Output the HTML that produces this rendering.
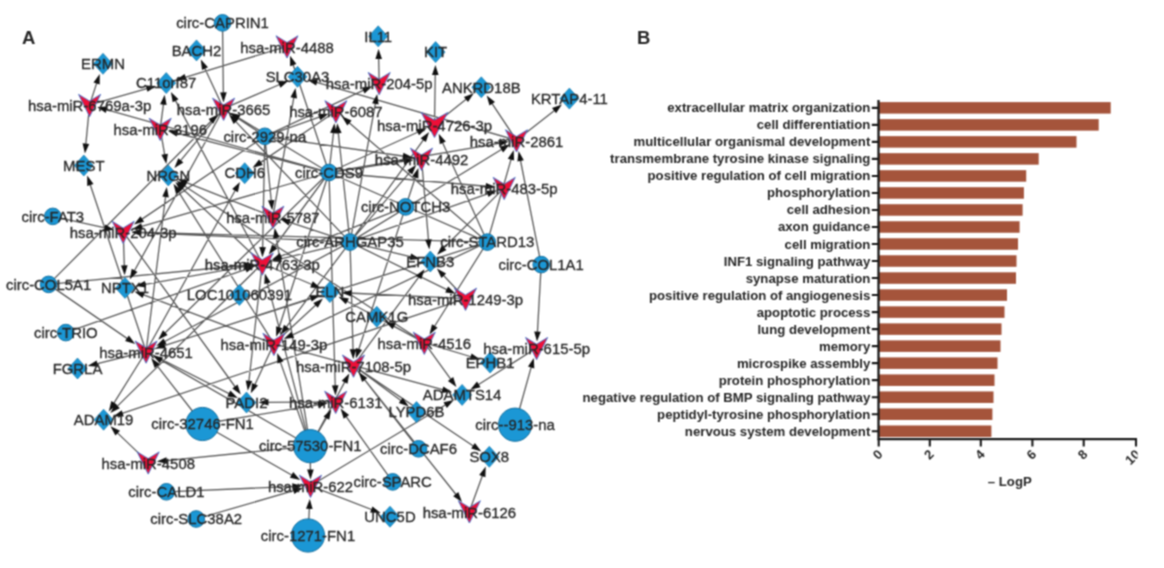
<!DOCTYPE html>
<html><head><meta charset="utf-8"><title>Figure</title>
<style>
html,body{margin:0;padding:0;background:#fff;}
body{width:1164px;height:568px;overflow:hidden;font-family:"Liberation Sans",sans-serif;}
svg{display:block;font-family:"Liberation Sans",sans-serif;}
</style></head><body>
<svg width="1164" height="568" viewBox="0 0 1164 568">
<defs><filter id="soft" x="0" y="0" width="100%" height="100%" filterUnits="userSpaceOnUse" color-interpolation-filters="sRGB"><feConvolveMatrix order="3" kernelMatrix="0.06 0.12 0.06 0.12 0.28 0.12 0.06 0.12 0.06" divisor="1" edgeMode="duplicate" preserveAlpha="false"/></filter></defs>
<g filter="url(#soft)">
<rect width="1164" height="568" fill="#fff"/>
<text x="22" y="43.5" font-size="18.5" font-weight="bold" fill="#262626">A</text>
<text x="637" y="43.5" font-size="18.5" font-weight="bold" fill="#262626">B</text>
<g id="net">
<path d="M222.5 22.9L223.4 95.4M329.0 172.5L292.3 62.3M329.0 172.5L103.8 108.9M329.0 172.5L174.5 132.5M329.0 172.5L236.2 116.3M329.0 172.5L333.8 130.2M329.0 172.5L420.3 131.0M329.0 172.5L488.7 186.5M329.0 172.5L272.9 249.0M329.0 172.5L139.1 227.2M329.0 172.5L278.3 330.0M329.0 172.5L406.7 160.9M264.8 136.3L235.8 116.9M264.8 136.3L322.0 116.1M264.8 136.3L365.9 89.2M264.8 136.3L271.5 203.2M264.8 136.3L262.6 250.2M350.0 242.1L375.9 100.9M350.0 242.1L233.9 119.6M350.0 242.1L411.6 170.2M350.0 242.1L425.0 137.7M350.0 242.1L503.9 148.0M350.0 242.1L490.3 192.8M350.0 242.1L138.4 232.5M350.0 242.1L278.1 259.6M350.0 242.1L353.1 352.2M350.0 242.1L162.4 342.8M350.0 242.1L449.3 290.8M350.0 242.1L284.8 329.2M350.0 242.1L338.0 130.3M405.6 206.9L416.2 174.7M405.6 206.9L358.0 351.8M487.3 242.1L441.5 140.2M487.3 242.1L433.2 328.5M541.2 264.6L537.3 334.6M52.8 216.4L107.4 228.3M48.6 284.4L213.0 119.3M48.6 284.4L247.3 265.0M48.6 284.4L129.5 340.1M65.8 332.6L248.4 268.4M202.5 424.0L294.2 476.5M202.5 424.0L321.0 404.3M310.2 446.2L310.4 472.5M310.2 446.2L327.9 415.5M310.2 446.2L346.0 379.6M310.2 446.2L279.5 359.6M310.2 446.2L163.8 460.8M310.2 446.2L275.9 234.9M308.0 535.5L309.5 505.9M166.4 491.8L295.3 486.4M196.2 519.0L296.3 489.9M392.7 481.9L344.6 414.3M418.5 448.8L362.9 377.6M515.1 424.7L531.9 364.6M89.6 104.9L97.5 80.6M89.6 104.9L149.5 87.9M89.6 104.9L85.6 146.5M287.0 46.3L182.7 78.1M223.6 108.7L203.7 66.0M223.6 108.7L281.9 83.5M223.6 108.7L178.9 162.6M223.6 108.7L133.2 273.0M160.2 128.8L163.8 101.7M160.2 128.8L165.1 157.2M262.3 263.5L174.2 98.1M262.3 263.5L180.4 186.7M262.3 263.5L142.5 284.8M262.3 263.5L314.3 285.5M262.3 263.5L248.6 383.7M379.2 83.0L378.6 56.1M434.5 124.5L435.3 71.9M434.5 124.5L468.3 97.6M516.5 140.3L490.6 101.3M516.5 140.3L556.4 108.9M516.5 140.3L314.1 81.6M273.9 343.8L253.8 387.0M273.9 343.8L317.7 303.3M273.9 343.8L141.0 293.9M123.2 231.8L124.4 268.3M146.1 351.5L89.4 182.2M146.1 351.5L165.9 194.0M146.1 351.5L94.5 364.3M146.1 351.5L112.5 405.4M146.1 351.5L231.5 394.9M146.1 351.5L313.5 297.4M148.2 462.4L115.6 431.1M310.5 485.8L374.1 510.5M469.4 511.3L483.3 473.2M335.7 401.8L265.4 402.4M353.5 365.6L445.3 390.4M353.5 365.6L475.5 447.5M424.3 342.7L473.5 357.5M424.3 342.7L452.3 381.4M424.3 342.7L391.5 324.8M465.5 298.7L441.7 273.5M465.5 298.7L348.5 293.0M536.6 348.0L476.2 386.0M421.5 158.7L428.7 242.4M335.9 111.2L258.4 163.9M264.8 136.3L139.8 220.6M272.9 216.7L184.1 181.7M424.3 342.7L182.2 184.5M146.1 351.5L236.5 188.0M264.8 136.3L405.9 156.5M329.0 172.5L501.8 142.8M272.9 216.7L294.3 94.9M487.3 242.1L347.1 120.9M487.3 242.1L511.8 156.8M541.2 264.6L520.0 158.0M504.2 187.9L442.0 249.8M487.3 242.1L138.4 232.2M350.0 242.1L413.3 257.4M487.3 242.1L290.1 336.1M353.5 365.6L420.4 274.9M424.3 342.7L344.7 300.0M273.9 343.8L177.2 189.7M310.2 446.2L266.7 280.3M310.2 446.2L158.8 358.9M202.5 424.0L155.5 363.6M262.3 263.5L115.4 408.1M465.5 298.7L119.9 414.2M487.3 242.1L162.0 346.4M329.0 172.5L163.2 334.8M123.2 231.8L236.7 389.0M329.0 172.5L335.3 388.4M273.9 343.8L445.3 390.3M353.5 365.6L403.2 402.3M310.5 485.8L447.8 403.5M353.5 365.6L457.6 496.5M405.6 206.9L278.3 257.2M350.0 242.1L286.9 221.3M329 172.5L487.3 242.1" stroke="#5a5a5a" stroke-width="1.3" fill="none"/>
<path d="M223.5 102.4L220.1 92.4L226.7 92.3ZM290.1 55.7L296.4 64.1L290.1 66.2ZM97.1 107.0L107.6 106.6L105.8 112.9ZM167.8 130.8L178.3 130.1L176.6 136.5ZM230.2 112.7L240.5 115.0L237.0 120.7ZM334.5 123.2L336.7 133.5L330.1 132.8ZM426.7 128.1L419.0 135.2L416.2 129.2ZM495.6 187.1L485.4 189.6L486.0 183.0ZM268.8 254.6L272.1 244.6L277.4 248.5ZM132.4 229.2L141.1 223.2L142.9 229.6ZM276.2 336.7L276.1 326.2L282.4 328.2ZM413.6 159.9L404.2 164.6L403.3 158.1ZM230.0 113.0L240.2 115.8L236.5 121.3ZM328.6 113.8L320.3 120.2L318.1 114.0ZM372.2 86.3L364.6 93.5L361.8 87.5ZM272.2 210.2L268.0 200.5L274.5 199.9ZM262.4 257.2L259.3 247.1L265.9 247.2ZM377.2 94.0L378.6 104.4L372.1 103.2ZM229.1 114.5L238.4 119.5L233.6 124.1ZM416.2 164.9L412.2 174.6L407.2 170.3ZM429.1 132.0L425.9 142.1L420.6 138.2ZM509.9 144.3L503.1 152.4L499.7 146.7ZM496.9 190.5L488.6 196.9L486.4 190.7ZM131.4 232.2L141.5 229.3L141.2 235.9ZM271.3 261.3L280.3 255.7L281.8 262.1ZM353.3 359.2L349.7 349.3L356.3 349.1ZM156.2 346.1L163.5 338.4L166.6 344.3ZM455.6 293.8L445.2 292.4L448.1 286.5ZM280.6 334.8L284.0 324.8L289.3 328.8ZM337.2 123.3L341.6 132.9L335.0 133.6ZM418.4 168.1L418.4 178.6L412.1 176.6ZM355.8 358.5L355.8 347.9L362.1 350.0ZM438.7 133.8L445.8 141.6L439.8 144.3ZM429.5 334.4L432.0 324.2L437.6 327.7ZM537.0 341.6L534.2 331.4L540.8 331.8ZM114.3 229.8L103.8 230.9L105.2 224.5ZM218.0 114.4L213.2 123.8L208.6 119.1ZM254.3 264.3L244.7 268.5L244.0 262.0ZM135.2 344.0L125.1 341.1L128.9 335.6ZM255.0 266.1L246.7 272.5L244.5 266.3ZM300.2 479.9L289.9 477.8L293.2 472.1ZM327.9 403.1L318.6 408.0L317.5 401.5ZM310.5 479.5L307.1 469.5L313.7 469.5ZM331.3 409.4L329.2 419.7L323.5 416.4ZM349.3 373.4L347.5 383.8L341.7 380.7ZM277.2 353.0L283.6 361.3L277.4 363.5ZM156.8 461.5L166.4 457.3L167.1 463.8ZM274.7 228.0L279.6 237.3L273.1 238.4ZM309.8 498.9L312.6 509.1L306.0 508.7ZM302.3 486.1L292.5 489.9L292.2 483.3ZM303.0 488.0L294.3 493.9L292.5 487.6ZM340.6 408.6L349.1 414.9L343.7 418.7ZM358.6 372.1L367.3 378.0L362.1 382.0ZM533.8 357.9L534.3 368.4L528.0 366.6ZM99.7 73.9L99.7 84.4L93.5 82.4ZM156.2 85.9L147.5 91.8L145.7 85.5ZM84.9 153.5L82.6 143.2L89.2 143.9ZM176.0 80.1L184.6 74.0L186.6 80.3ZM200.8 59.6L208.0 67.3L202.0 70.1ZM288.4 80.7L280.5 87.7L277.9 81.7ZM174.4 168.0L178.3 158.2L183.4 162.4ZM129.8 279.2L131.7 268.8L137.5 272.0ZM164.7 94.7L166.6 105.1L160.1 104.2ZM166.3 164.1L161.4 154.8L167.9 153.7ZM170.9 91.9L178.5 99.2L172.7 102.3ZM175.3 181.9L184.8 186.4L180.3 191.2ZM135.6 286.0L144.9 281.0L146.1 287.5ZM320.7 288.2L310.2 287.4L312.8 281.3ZM247.8 390.7L245.7 380.4L252.3 381.1ZM378.5 49.1L382.0 59.0L375.4 59.1ZM435.4 64.9L438.6 75.0L432.0 74.9ZM473.8 93.2L468.0 102.1L463.9 96.9ZM486.7 95.4L495.0 101.9L489.5 105.6ZM561.9 104.5L556.1 113.3L552.0 108.1ZM307.4 79.7L318.0 79.3L316.1 85.6ZM250.8 393.3L252.0 382.9L258.0 385.6ZM322.9 298.6L317.8 307.8L313.3 302.9ZM134.4 291.4L145.0 291.9L142.6 298.0ZM124.6 275.3L121.0 265.4L127.6 265.2ZM87.2 175.5L93.5 184.0L87.2 186.1ZM166.8 187.1L168.8 197.4L162.3 196.6ZM87.7 366.0L96.6 360.4L98.2 366.8ZM108.8 411.4L111.3 401.1L116.9 404.6ZM237.8 398.1L227.4 396.5L230.3 390.6ZM320.2 295.2L311.7 301.5L309.6 295.2ZM110.5 426.3L120.0 430.8L115.4 435.6ZM380.6 513.1L370.1 512.5L372.5 506.4ZM485.7 466.6L485.4 477.2L479.2 474.9ZM258.4 402.4L268.4 399.0L268.5 405.6ZM452.1 392.2L441.5 392.8L443.3 386.4ZM481.3 451.4L471.2 448.6L474.9 443.1ZM480.2 359.5L469.7 359.8L471.6 353.5ZM456.4 387.0L447.9 380.9L453.2 377.0ZM385.4 321.5L395.7 323.4L392.6 329.2ZM436.9 268.4L446.1 273.4L441.4 278.0ZM341.5 292.7L351.6 289.9L351.3 296.4ZM470.3 389.8L477.0 381.6L480.5 387.2ZM429.3 249.4L425.1 239.7L431.7 239.2ZM252.6 167.8L259.1 159.4L262.8 164.9ZM134.0 224.5L140.4 216.2L144.1 221.7ZM177.6 179.1L188.1 179.7L185.7 185.8ZM176.4 180.7L186.5 183.4L182.9 188.9ZM239.9 181.9L237.9 192.3L232.2 189.1ZM412.8 157.5L402.4 159.3L403.4 152.8ZM508.7 141.6L499.4 146.6L498.3 140.1ZM295.5 88.1L297.0 98.5L290.5 97.3ZM341.8 116.3L351.6 120.4L347.3 125.4ZM513.7 150.1L514.1 160.6L507.8 158.8ZM518.6 151.1L523.8 160.3L517.4 161.6ZM437.1 254.8L441.8 245.4L446.5 250.0ZM131.4 232.0L141.5 229.0L141.3 235.6ZM420.1 259.0L409.6 259.9L411.1 253.5ZM283.7 339.1L291.4 331.8L294.2 337.8ZM424.5 269.3L421.3 279.3L416.0 275.4ZM338.5 296.7L348.9 298.5L345.8 304.3ZM173.5 183.7L181.6 190.4L176.0 193.9ZM264.9 273.6L270.7 282.4L264.3 284.1ZM152.8 355.4L163.1 357.5L159.8 363.2ZM151.2 358.0L159.9 363.9L154.7 367.9ZM110.4 413.0L115.2 403.6L119.8 408.3ZM113.3 416.5L121.7 410.2L123.8 416.4ZM155.4 348.5L163.9 342.3L165.9 348.6ZM158.2 339.7L163.0 330.3L167.6 335.1ZM240.8 394.6L232.3 388.5L237.6 384.6ZM335.5 395.4L331.9 385.5L338.5 385.3ZM452.1 392.2L441.5 392.7L443.3 386.4ZM408.8 406.4L398.8 403.1L402.7 397.8ZM453.8 399.9L446.9 407.9L443.5 402.2ZM462.0 502.0L453.2 496.2L458.3 492.1ZM271.8 259.7L279.9 253.0L282.3 259.1ZM280.3 219.1L290.8 219.1L288.7 225.4Z" fill="#111"/>
<circle cx="222.5" cy="22.9" r="8.3" fill="#1b97d5" stroke="#136f9f" stroke-width="1"/>
<polygon points="196.5,39.9 206.0,50.4 196.5,60.9 187.0,50.4" fill="#1b97d5" stroke="#136f9f" stroke-width="0.6"/>
<polygon points="276.0,35.8 287.0,42.5 298.0,35.8 287.0,58.0" fill="#ee0f37" stroke="#3f6fc8" stroke-width="0.9" stroke-linejoin="miter"/>
<polygon points="103.0,53.3 112.5,63.8 103.0,74.3 93.5,63.8" fill="#1b97d5" stroke="#136f9f" stroke-width="0.6"/>
<polygon points="166.2,72.6 175.7,83.1 166.2,93.6 156.7,83.1" fill="#1b97d5" stroke="#136f9f" stroke-width="0.6"/>
<polygon points="297.5,66.3 307.0,76.8 297.5,87.3 288.0,76.8" fill="#1b97d5" stroke="#136f9f" stroke-width="0.6"/>
<polygon points="78.6,94.4 89.6,101.1 100.6,94.4 89.6,116.6" fill="#ee0f37" stroke="#3f6fc8" stroke-width="0.9" stroke-linejoin="miter"/>
<polygon points="212.6,98.2 223.6,104.9 234.6,98.2 223.6,120.4" fill="#ee0f37" stroke="#3f6fc8" stroke-width="0.9" stroke-linejoin="miter"/>
<polygon points="149.2,118.3 160.2,125.0 171.2,118.3 160.2,140.5" fill="#ee0f37" stroke="#3f6fc8" stroke-width="0.9" stroke-linejoin="miter"/>
<circle cx="264.8" cy="136.3" r="8.3" fill="#1b97d5" stroke="#136f9f" stroke-width="1"/>
<polygon points="83.8,155.0 93.3,165.5 83.8,176.0 74.3,165.5" fill="#1b97d5" stroke="#136f9f" stroke-width="0.6"/>
<polygon points="168.3,164.9 177.8,175.4 168.3,185.9 158.8,175.4" fill="#1b97d5" stroke="#136f9f" stroke-width="0.6"/>
<polygon points="244.7,162.7 254.2,173.2 244.7,183.7 235.2,173.2" fill="#1b97d5" stroke="#136f9f" stroke-width="0.6"/>
<circle cx="329" cy="172.5" r="8.3" fill="#1b97d5" stroke="#136f9f" stroke-width="1"/>
<polygon points="378.2,25.8 387.7,36.3 378.2,46.8 368.7,36.3" fill="#1b97d5" stroke="#136f9f" stroke-width="0.6"/>
<polygon points="435.6,41.6 445.1,52.1 435.6,62.6 426.1,52.1" fill="#1b97d5" stroke="#136f9f" stroke-width="0.6"/>
<polygon points="368.2,72.5 379.2,79.2 390.2,72.5 379.2,94.7" fill="#ee0f37" stroke="#3f6fc8" stroke-width="0.9" stroke-linejoin="miter"/>
<polygon points="481.3,76.8 490.8,87.3 481.3,97.8 471.8,87.3" fill="#1b97d5" stroke="#136f9f" stroke-width="0.6"/>
<polygon points="569.4,88.1 578.9,98.6 569.4,109.1 559.9,98.6" fill="#1b97d5" stroke="#136f9f" stroke-width="0.6"/>
<polygon points="324.9,100.7 335.9,107.4 346.9,100.7 335.9,122.9" fill="#ee0f37" stroke="#3f6fc8" stroke-width="0.9" stroke-linejoin="miter"/>
<polygon points="421.3,112.5 434.5,120.0 447.7,112.5 434.5,137.5" fill="#ee0f37" stroke="#3f6fc8" stroke-width="0.9" stroke-linejoin="miter"/>
<polygon points="505.5,129.8 516.5,136.5 527.5,129.8 516.5,152.0" fill="#ee0f37" stroke="#3f6fc8" stroke-width="0.9" stroke-linejoin="miter"/>
<polygon points="410.5,148.2 421.5,154.9 432.5,148.2 421.5,170.4" fill="#ee0f37" stroke="#3f6fc8" stroke-width="0.9" stroke-linejoin="miter"/>
<polygon points="493.2,177.4 504.2,184.1 515.2,177.4 504.2,199.6" fill="#ee0f37" stroke="#3f6fc8" stroke-width="0.9" stroke-linejoin="miter"/>
<circle cx="52.8" cy="216.4" r="8.3" fill="#1b97d5" stroke="#136f9f" stroke-width="1"/>
<polygon points="112.2,221.3 123.2,228.0 134.2,221.3 123.2,243.5" fill="#ee0f37" stroke="#3f6fc8" stroke-width="0.9" stroke-linejoin="miter"/>
<polygon points="261.9,206.2 272.9,212.9 283.9,206.2 272.9,228.4" fill="#ee0f37" stroke="#3f6fc8" stroke-width="0.9" stroke-linejoin="miter"/>
<polygon points="251.3,253.0 262.3,259.7 273.3,253.0 262.3,275.2" fill="#ee0f37" stroke="#3f6fc8" stroke-width="0.9" stroke-linejoin="miter"/>
<circle cx="48.6" cy="284.4" r="8.3" fill="#1b97d5" stroke="#136f9f" stroke-width="1"/>
<polygon points="125.0,277.4 134.5,287.9 125.0,298.4 115.5,287.9" fill="#1b97d5" stroke="#136f9f" stroke-width="0.6"/>
<polygon points="239.4,284.4 248.9,294.9 239.4,305.4 229.9,294.9" fill="#1b97d5" stroke="#136f9f" stroke-width="0.6"/>
<circle cx="65.8" cy="332.6" r="8.3" fill="#1b97d5" stroke="#136f9f" stroke-width="1"/>
<polygon points="135.1,341.0 146.1,347.7 157.1,341.0 146.1,363.2" fill="#ee0f37" stroke="#3f6fc8" stroke-width="0.9" stroke-linejoin="miter"/>
<polygon points="77.5,358.0 87.0,368.5 77.5,379.0 68.0,368.5" fill="#1b97d5" stroke="#136f9f" stroke-width="0.6"/>
<polygon points="262.9,333.3 273.9,340.0 284.9,333.3 273.9,355.5" fill="#ee0f37" stroke="#3f6fc8" stroke-width="0.9" stroke-linejoin="miter"/>
<circle cx="405.6" cy="206.9" r="8.3" fill="#1b97d5" stroke="#136f9f" stroke-width="1"/>
<circle cx="350" cy="242.1" r="8.3" fill="#1b97d5" stroke="#136f9f" stroke-width="1"/>
<circle cx="487.3" cy="242.1" r="8.3" fill="#1b97d5" stroke="#136f9f" stroke-width="1"/>
<polygon points="430.3,251.0 439.8,261.5 430.3,272.0 420.8,261.5" fill="#1b97d5" stroke="#136f9f" stroke-width="0.6"/>
<circle cx="541.2" cy="264.6" r="8.3" fill="#1b97d5" stroke="#136f9f" stroke-width="1"/>
<polygon points="329.9,281.6 339.4,292.1 329.9,302.6 320.4,292.1" fill="#1b97d5" stroke="#136f9f" stroke-width="0.6"/>
<polygon points="454.5,288.2 465.5,294.9 476.5,288.2 465.5,310.4" fill="#ee0f37" stroke="#3f6fc8" stroke-width="0.9" stroke-linejoin="miter"/>
<polygon points="376.8,306.3 386.3,316.8 376.8,327.3 367.3,316.8" fill="#1b97d5" stroke="#136f9f" stroke-width="0.6"/>
<polygon points="413.3,332.2 424.3,338.9 435.3,332.2 424.3,354.4" fill="#ee0f37" stroke="#3f6fc8" stroke-width="0.9" stroke-linejoin="miter"/>
<polygon points="525.6,337.5 536.6,344.2 547.6,337.5 536.6,359.7" fill="#ee0f37" stroke="#3f6fc8" stroke-width="0.9" stroke-linejoin="miter"/>
<polygon points="490.1,352.0 499.6,362.5 490.1,373.0 480.6,362.5" fill="#1b97d5" stroke="#136f9f" stroke-width="0.6"/>
<polygon points="342.5,355.1 353.5,361.8 364.5,355.1 353.5,377.3" fill="#ee0f37" stroke="#3f6fc8" stroke-width="0.9" stroke-linejoin="miter"/>
<polygon points="462.1,384.4 471.6,394.9 462.1,405.4 452.6,394.9" fill="#1b97d5" stroke="#136f9f" stroke-width="0.6"/>
<polygon points="246.5,392.0 256.0,402.5 246.5,413.0 237.0,402.5" fill="#1b97d5" stroke="#136f9f" stroke-width="0.6"/>
<polygon points="103.6,409.2 113.1,419.7 103.6,430.2 94.1,419.7" fill="#1b97d5" stroke="#136f9f" stroke-width="0.6"/>
<circle cx="202.5" cy="424" r="16.6" fill="#1b97d5" stroke="#136f9f" stroke-width="1"/>
<circle cx="310.2" cy="446.2" r="16.6" fill="#1b97d5" stroke="#136f9f" stroke-width="1"/>
<polygon points="137.2,451.9 148.2,458.6 159.2,451.9 148.2,474.1" fill="#ee0f37" stroke="#3f6fc8" stroke-width="0.9" stroke-linejoin="miter"/>
<circle cx="166.4" cy="491.8" r="8.3" fill="#1b97d5" stroke="#136f9f" stroke-width="1"/>
<polygon points="299.5,475.3 310.5,482.0 321.5,475.3 310.5,497.5" fill="#ee0f37" stroke="#3f6fc8" stroke-width="0.9" stroke-linejoin="miter"/>
<circle cx="196.2" cy="519" r="8.3" fill="#1b97d5" stroke="#136f9f" stroke-width="1"/>
<circle cx="308" cy="535.5" r="16.6" fill="#1b97d5" stroke="#136f9f" stroke-width="1"/>
<polygon points="324.7,391.3 335.7,398.0 346.7,391.3 335.7,413.5" fill="#ee0f37" stroke="#3f6fc8" stroke-width="0.9" stroke-linejoin="miter"/>
<polygon points="416.5,401.6 426.0,412.1 416.5,422.6 407.0,412.1" fill="#1b97d5" stroke="#136f9f" stroke-width="0.6"/>
<circle cx="515.1" cy="424.7" r="16.6" fill="#1b97d5" stroke="#136f9f" stroke-width="1"/>
<circle cx="418.5" cy="448.8" r="8.3" fill="#1b97d5" stroke="#136f9f" stroke-width="1"/>
<polygon points="489.3,446.3 498.8,456.8 489.3,467.3 479.8,456.8" fill="#1b97d5" stroke="#136f9f" stroke-width="0.6"/>
<circle cx="392.7" cy="481.9" r="8.3" fill="#1b97d5" stroke="#136f9f" stroke-width="1"/>
<polygon points="458.4,500.8 469.4,507.5 480.4,500.8 469.4,523.0" fill="#ee0f37" stroke="#3f6fc8" stroke-width="0.9" stroke-linejoin="miter"/>
<polygon points="390.0,506.2 399.5,516.7 390.0,527.2 380.5,516.7" fill="#1b97d5" stroke="#136f9f" stroke-width="0.6"/>
<g font-size="14.9" fill="#262626" stroke="#262626" stroke-width="0.3" text-anchor="middle">
<text x="222.5" y="28.1">circ-CAPRIN1</text>
<text x="196.5" y="55.6">BACH2</text>
<text x="287.0" y="52.5">hsa-miR-4488</text>
<text x="103.0" y="69.0">ERMN</text>
<text x="166.2" y="88.3">C11orf87</text>
<text x="297.5" y="82.0">SLC30A3</text>
<text x="89.6" y="111.1">hsa-miR-6769a-3p</text>
<text x="223.6" y="114.9">hsa-miR-3665</text>
<text x="160.2" y="135.0">hsa-miR-3196</text>
<text x="264.8" y="141.5">circ-2929-na</text>
<text x="83.8" y="170.7">MEST</text>
<text x="168.3" y="180.6">NRGN</text>
<text x="244.7" y="178.4">CDH6</text>
<text x="329.0" y="177.7">circ-CDS9</text>
<text x="378.2" y="41.5">IL11</text>
<text x="435.6" y="57.3">KIT</text>
<text x="379.2" y="89.2">hsa-miR-204-5p</text>
<text x="481.3" y="92.5">ANKRD18B</text>
<text x="569.4" y="103.8">KRTAP4-11</text>
<text x="335.9" y="117.4">hsa-miR-6087</text>
<text x="434.5" y="130.7">hsa-miR-4726-3p</text>
<text x="516.5" y="146.5">hsa-miR-2861</text>
<text x="421.5" y="164.9">hsa-miR-4492</text>
<text x="504.2" y="194.1">hsa-miR-483-5p</text>
<text x="52.8" y="221.6">circ-FAT3</text>
<text x="123.2" y="238.0">hsa-miR-204-3p</text>
<text x="272.9" y="222.9">hsa-miR-5787</text>
<text x="262.3" y="269.7">hsa-miR-4763-3p</text>
<text x="48.6" y="289.6">circ-COL5A1</text>
<text x="125.0" y="293.1">NPTX1</text>
<text x="239.4" y="300.1">LOC101060391</text>
<text x="65.8" y="337.8">circ-TRIO</text>
<text x="146.1" y="357.7">hsa-miR-4651</text>
<text x="77.5" y="373.7">FGRLA</text>
<text x="273.9" y="350.0">hsa-miR-149-3p</text>
<text x="405.6" y="212.1">circ-NOTCH3</text>
<text x="350.0" y="247.3">circ-ARHGAP35</text>
<text x="487.3" y="247.3">circ-STARD13</text>
<text x="430.3" y="266.7">EFNB3</text>
<text x="541.2" y="269.8">circ-COL1A1</text>
<text x="329.9" y="297.3">ELN</text>
<text x="465.5" y="304.9">hsa-miR-1249-3p</text>
<text x="376.8" y="322.0">CAMK1G</text>
<text x="424.3" y="348.9">hsa-miR-4516</text>
<text x="536.6" y="354.2">hsa-miR-615-5p</text>
<text x="490.1" y="367.7">EPHB1</text>
<text x="353.5" y="371.8">hsa-miR-7108-5p</text>
<text x="462.1" y="400.1">ADAMTS14</text>
<text x="246.5" y="407.7">PADI2</text>
<text x="103.6" y="424.9">ADAM19</text>
<text x="202.5" y="429.2">circ-32746-FN1</text>
<text x="310.2" y="451.4">circ-57530-FN1</text>
<text x="148.2" y="468.6">hsa-miR-4508</text>
<text x="166.4" y="497.0">circ-CALD1</text>
<text x="310.5" y="492.0">hsa-miR-622</text>
<text x="196.2" y="524.2">circ-SLC38A2</text>
<text x="308.0" y="540.7">circ-1271-FN1</text>
<text x="335.7" y="408.0">hsa-miR-6131</text>
<text x="416.5" y="417.3">LYPD6B</text>
<text x="515.1" y="429.9">circ--913-na</text>
<text x="418.5" y="454.0">circ-DCAF6</text>
<text x="489.3" y="462.0">SOX8</text>
<text x="392.7" y="487.1">circ-SPARC</text>
<text x="469.4" y="517.5">hsa-miR-6126</text>
<text x="390.0" y="521.9">UNC5D</text>
</g>
</g>
<g id="chart">
<g font-size="13.2" font-weight="bold" fill="#262626" text-anchor="end">
<text x="870.3" y="112.35">extracellular matrix organization</text>
<text x="870.3" y="129.37">cell differentiation</text>
<text x="870.3" y="146.39">multicellular organismal development</text>
<text x="870.3" y="163.41">transmembrane tyrosine kinase signaling</text>
<text x="870.3" y="180.43">positive regulation of cell migration</text>
<text x="870.3" y="197.45">phosphorylation</text>
<text x="870.3" y="214.47">cell adhesion</text>
<text x="870.3" y="231.49">axon guidance</text>
<text x="870.3" y="248.51">cell migration</text>
<text x="870.3" y="265.53">INF1 signaling pathway</text>
<text x="870.3" y="282.55">synapse maturation</text>
<text x="870.3" y="299.57">positive regulation of angiogenesis</text>
<text x="870.3" y="316.59">apoptotic process</text>
<text x="870.3" y="333.61">lung development</text>
<text x="870.3" y="350.63">memory</text>
<text x="870.3" y="367.65">microspike assembly</text>
<text x="870.3" y="384.67">protein phosphorylation</text>
<text x="870.3" y="401.69">negative regulation of BMP signaling pathway</text>
<text x="870.3" y="418.71">peptidyl-tyrosine phosphorylation</text>
<text x="870.3" y="435.73">nervous system development</text>
</g>
<g fill="#a5543b"><rect x="878.5" y="102.10" width="232.2" height="11.5"/><rect x="878.5" y="119.12" width="220.2" height="11.5"/><rect x="878.5" y="136.14" width="198.0" height="11.5"/><rect x="878.5" y="153.16" width="160.2" height="11.5"/><rect x="878.5" y="170.18" width="147.7" height="11.5"/><rect x="878.5" y="187.20" width="145.4" height="11.5"/><rect x="878.5" y="204.22" width="144.1" height="11.5"/><rect x="878.5" y="221.24" width="141.1" height="11.5"/><rect x="878.5" y="238.26" width="139.5" height="11.5"/><rect x="878.5" y="255.28" width="138.0" height="11.5"/><rect x="878.5" y="272.30" width="137.5" height="11.5"/><rect x="878.5" y="289.32" width="128.5" height="11.5"/><rect x="878.5" y="306.34" width="126.0" height="11.5"/><rect x="878.5" y="323.36" width="123.0" height="11.5"/><rect x="878.5" y="340.38" width="122.0" height="11.5"/><rect x="878.5" y="357.40" width="119.0" height="11.5"/><rect x="878.5" y="374.42" width="116.0" height="11.5"/><rect x="878.5" y="391.44" width="115.0" height="11.5"/><rect x="878.5" y="408.46" width="113.9" height="11.5"/><rect x="878.5" y="425.48" width="112.9" height="11.5"/></g>
<path d="M878.5 100V439.1H1137" stroke="#1a1a1a" stroke-width="2.3" fill="none" stroke-linejoin="miter"/>
<path d="M871.8 107.85H878.5M871.8 124.87H878.5M871.8 141.89H878.5M871.8 158.91H878.5M871.8 175.93H878.5M871.8 192.95H878.5M871.8 209.97H878.5M871.8 226.99H878.5M871.8 244.01H878.5M871.8 261.03H878.5M871.8 278.05H878.5M871.8 295.07H878.5M871.8 312.09H878.5M871.8 329.11H878.5M871.8 346.13H878.5M871.8 363.15H878.5M871.8 380.17H878.5M871.8 397.19H878.5M871.8 414.21H878.5M871.8 431.23H878.5M878.7 439.1V446.6M929.8 439.1V446.6M980.8 439.1V446.6M1032.4 439.1V446.6M1083.7 439.1V446.6M1136.0 439.1V446.6" stroke="#1a1a1a" stroke-width="2.1" fill="none"/>
<clipPath id="cp"><rect x="860" y="430" width="277.5" height="60"/></clipPath><g font-size="13" font-weight="bold" fill="#262626" text-anchor="end" clip-path="url(#cp)">
<text transform="translate(880.4,452.1) rotate(-45)" x="0" y="0" dy="4.3">0</text>
<text transform="translate(931.5,452.1) rotate(-45)" x="0" y="0" dy="4.3">2</text>
<text transform="translate(982.5,452.1) rotate(-45)" x="0" y="0" dy="4.3">4</text>
<text transform="translate(1034.1,452.1) rotate(-45)" x="0" y="0" dy="4.3">6</text>
<text transform="translate(1085.4,452.1) rotate(-45)" x="0" y="0" dy="4.3">8</text>
<text transform="translate(1137.7,452.1) rotate(-45)" x="0" y="0" dy="4.3">10</text>
</g>
<text x="1009.8" y="486.3" font-size="13.2" font-weight="bold" fill="#262626" text-anchor="middle">– LogP</text>
</g>
</g>
</svg>
</body></html>
